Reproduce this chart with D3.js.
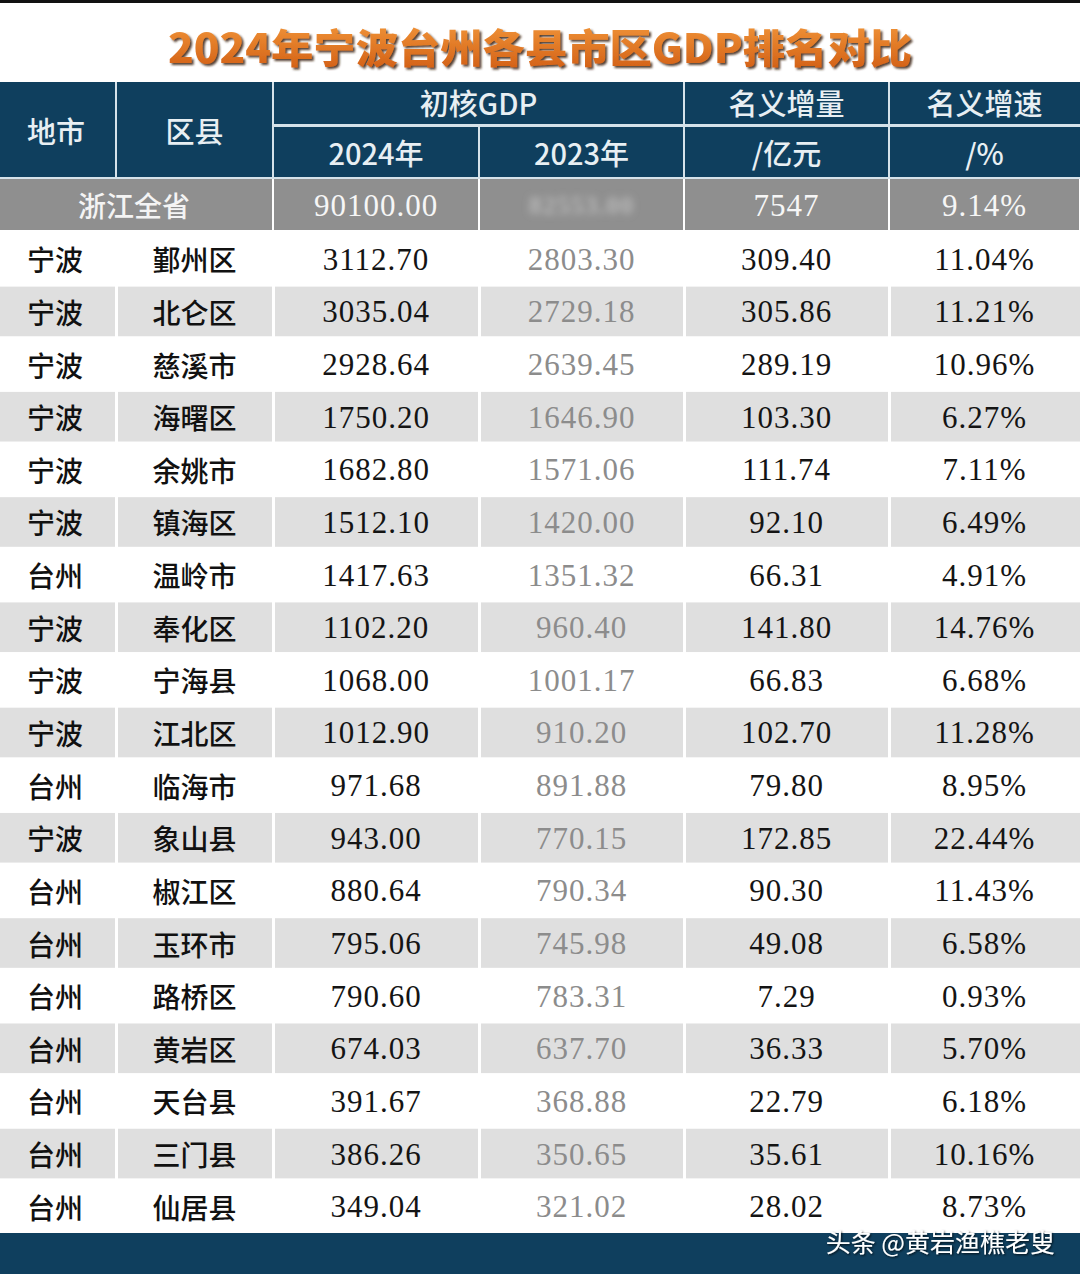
<!DOCTYPE html>
<html><head><meta charset="utf-8">
<script src="https://cdn.jsdelivr.net/npm/d3@7"></script>
<style>html,body{margin:0;padding:0;background:#fff;}svg{display:block;}</style>
</head><body>
<svg id="c" width="1080" height="1274"></svg>
<script>
const title = "2024年宁波台州各县市区GDP排名对比";
const headerTop = ["地市", "区县", "初核GDP", "名义增量", "名义增速"];
const headerSub = ["2024年", "2023年", "/亿元", "/%"];
const provinceName = "浙江全省";
const provinceValues = ["90100.00", "82553.00", "7547", "9.14%"];
const cities = ["宁波","宁波","宁波","宁波","宁波","宁波","台州","宁波","宁波","宁波","台州","宁波","台州","台州","台州","台州","台州","台州","台州"];
const districts = ["鄞州区","北仑区","慈溪市","海曙区","余姚市","镇海区","温岭市","奉化区","宁海县","江北区","临海市","象山县","椒江区","玉环市","路桥区","黄岩区","天台县","三门县","仙居县"];
const gdp2024 = [3112.70,3035.04,2928.64,1750.20,1682.80,1512.10,1417.63,1102.20,1068.00,1012.90,971.68,943.00,880.64,795.06,790.60,674.03,391.67,386.26,349.04];
const gdp2023 = [2803.30,2729.18,2639.45,1646.90,1571.06,1420.00,1351.32,960.40,1001.17,910.20,891.88,770.15,790.34,745.98,783.31,637.70,368.88,350.65,321.02];
const increase = [309.40,305.86,289.19,103.30,111.74,92.10,66.31,141.80,66.83,102.70,79.80,172.85,90.30,49.08,7.29,36.33,22.79,35.61,28.02];
const growth = [11.04,11.21,10.96,6.27,7.11,6.49,4.91,14.76,6.68,11.28,8.95,22.44,11.43,6.58,0.93,5.70,6.18,10.16,8.73];
const watermark = "头条 @黄岩渔樵老叟";

const svg = d3.select("#c");
const W = 1080, H = 1274;
const navy = "#0f3f5e", headTxt = "#e8eff3", sepCol = "#d5e2ea";
const colEdges = [0, 116, 273, 479, 684, 889, 1080];
const cjk = "'Noto Sans CJK SC','Noto Sans CJK JP',sans-serif";
const serif = "'Liberation Serif','DejaVu Serif',serif";

const defs = svg.append("defs");
const g = defs.append("linearGradient").attr("id","tg").attr("x1",0).attr("y1",0).attr("x2",0).attr("y2",1);
g.append("stop").attr("offset","0%").attr("stop-color","#f49a3c");
g.append("stop").attr("offset","100%").attr("stop-color","#cf5a12");
const sh = defs.append("filter").attr("id","ts").attr("x","-10%").attr("y","-30%").attr("width","120%").attr("height","160%");
sh.append("feDropShadow").attr("dx",2).attr("dy",2).attr("stdDeviation",1).attr("flood-color","#3a2410").attr("flood-opacity",0.85);
const ws = defs.append("filter").attr("id","ws").attr("x","-10%").attr("y","-30%").attr("width","120%").attr("height","160%");
ws.append("feDropShadow").attr("dx",1).attr("dy",1).attr("stdDeviation",1).attr("flood-color","#000").attr("flood-opacity",0.8);
const bl = defs.append("filter").attr("id","bl");
bl.append("feGaussianBlur").attr("stdDeviation",3.5);

// background
svg.append("rect").attr("width",W).attr("height",H).attr("fill","#fff");
svg.append("rect").attr("width",W).attr("height",3).attr("fill","#111");

// title
svg.append("text").attr("x",540).attr("y",46).attr("text-anchor","middle").attr("dominant-baseline","central")
  .attr("font-family",cjk).attr("font-weight",900).attr("font-size",40)
  .attr("textLength",744).attr("lengthAdjust","spacingAndGlyphs")
  .attr("fill","url(#tg)").attr("filter","url(#ts)").text(title);

// header
const hTop = 82, hMid = 125, hBot = 177;
svg.append("rect").attr("x",0).attr("y",hTop).attr("width",W).attr("height",hBot-hTop).attr("fill",navy);
colEdges.slice(1,-1).forEach((x,i)=>{
  const y0 = (i===2) ? hMid : hTop;
  svg.append("rect").attr("x",x-1).attr("y",y0).attr("width",2).attr("height",hBot-y0).attr("fill",sepCol);
});
svg.append("rect").attr("x",colEdges[2]).attr("y",hMid-1).attr("width",W-colEdges[2]).attr("height",3).attr("fill",sepCol);
svg.append("rect").attr("x",0).attr("y",hBot).attr("width",W).attr("height",2).attr("fill",sepCol);

const cx = i => (colEdges[i]+colEdges[i+1])/2;
const headStyle = s => s.attr("text-anchor","middle").attr("dominant-baseline","central")
  .attr("font-family",cjk).attr("font-size",29).attr("font-weight",500).attr("fill",headTxt);
headStyle(svg.append("text").attr("x",cx(0)-2).attr("y",(hTop+hBot)/2)).text(headerTop[0]);
headStyle(svg.append("text").attr("x",cx(1)).attr("y",(hTop+hBot)/2)).text(headerTop[1]);
headStyle(svg.append("text").attr("x",(colEdges[2]+colEdges[4])/2).attr("y",(hTop+hMid)/2-2)).text(headerTop[2]);
headStyle(svg.append("text").attr("x",cx(4)).attr("y",(hTop+hMid)/2-2)).text(headerTop[3]);
headStyle(svg.append("text").attr("x",cx(5)).attr("y",(hTop+hMid)/2-2)).text(headerTop[4]);
headerSub.forEach((t,i)=>{
  headStyle(svg.append("text").attr("x",cx(i+2)).attr("y",(hMid+hBot)/2+1)).text(t);
});

// province row
const pTop = 179, pBot = 230;
const provCells = [[0,2],[2,3],[3,4],[4,5],[5,6]];
provCells.forEach(([a,b])=>{
  svg.append("rect").attr("x",colEdges[a]+(a?1:0)).attr("y",pTop).attr("width",colEdges[b]-colEdges[a]-(a?1:0)-1).attr("height",pBot-pTop).attr("fill","#8f8f8f");
});
svg.append("text").attr("x",134).attr("y",(pTop+pBot)/2).attr("text-anchor","middle").attr("dominant-baseline","central")
  .attr("font-family",cjk).attr("font-size",28).attr("font-weight",500).attr("fill","#f4f4f4").text(provinceName);
provinceValues.forEach((v,i)=>{
  const t = svg.append("text").attr("x",cx(i+2)).attr("y",(pTop+pBot)/2+1).attr("text-anchor","middle").attr("dominant-baseline","central")
    .attr("font-family",serif).attr("font-size",31).attr("letter-spacing",1).attr("fill","#f6f6f6").text(v);
  if(i===1){ t.attr("filter","url(#bl)").attr("fill","#b8b8b8").attr("font-size",26).attr("font-weight","bold"); }
});

// data rows
const y = d3.scaleBand().domain(d3.range(districts.length)).range([232, 1232]).padding(0);
const rows = svg.append("g").selectAll("g").data(districts.map((d,i)=>i)).join("g")
  .attr("transform", i=>`translate(0,${y(i)})`);
rows.each(function(i){
  const r = d3.select(this);
  const h = y.bandwidth();
  if(i%2===1){
    for(let c=0;c<6;c++){
      r.append("rect").attr("x",colEdges[c]+(c?2:0)).attr("y",2).attr("width",colEdges[c+1]-colEdges[c]-(c?2:0)-(c<5?1:0)).attr("height",h-3).attr("fill","#dfdfdf");
    }
  }
  const vals = [cities[i], districts[i], gdp2024[i].toFixed(2), gdp2023[i].toFixed(2), increase[i].toFixed(2), growth[i].toFixed(2)+"%"];
  vals.forEach((v,c)=>{
    const t = r.append("text").attr("x",c===0?55:cx(c)).attr("y",h/2+1).attr("text-anchor","middle").attr("dominant-baseline","central").text(v);
    if(c<2){ t.attr("font-family",cjk).attr("font-size",28).attr("font-weight",500).attr("fill","#111"); }
    else { t.attr("font-family",serif).attr("font-size",31).attr("letter-spacing",1).attr("fill", c===3?"#8c8c8c":"#141414"); }
  });
});

// footer
svg.append("rect").attr("x",0).attr("y",1233).attr("width",W).attr("height",H-1233).attr("fill",navy);
svg.append("text").attr("x",1055).attr("y",1241).attr("text-anchor","end").attr("dominant-baseline","central")
  .attr("font-family",cjk).attr("font-size",25).attr("fill","#ffffff").attr("filter","url(#ws)").text(watermark);
</script>
</body></html>
